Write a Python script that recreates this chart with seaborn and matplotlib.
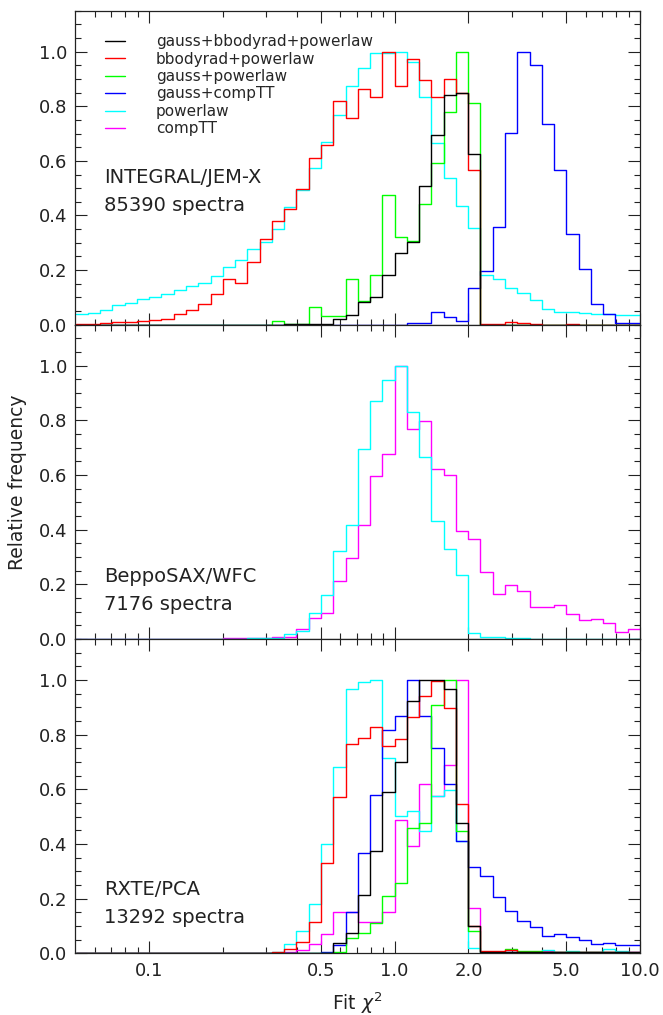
import numpy as np
import pandas as pd
import matplotlib.pyplot as plt
import seaborn as sns
from matplotlib.lines import Line2D
from matplotlib.ticker import FixedLocator, MultipleLocator, FormatStrFormatter, NullFormatter

sns.set_style("ticks")
plt.rcParams["font.family"] = ["DejaVu Sans"]
plt.rcParams["mathtext.fontset"] = "dejavusans"

models = ["gauss+bbodyrad+powerlaw", "bbodyrad+powerlaw", "gauss+powerlaw",
          "gauss+compTT", "powerlaw", "compTT"]
colors = ["#000000", "#ff0000", "#00ff00", "#0000ff", "#00ffff", "#ff00ff"]

# histogram bins: 0.05 wide in log10(chi2), from 0.05 to 10
n_bins = 46
log_lo, dlog = -1.30, 0.05


def from_bin(start, values):
    out = [0.0] * n_bins
    out[start:start + len(values)] = values
    return out


# INTEGRAL/JEM-X
jemx_black = from_bin(17, [0.004, 0.004, 0.004, 0.002, 0.020, 0.036, 0.083, 0.102, 0.184, 0.264,
                           0.304, 0.508, 0.695, 0.841, 0.850, 0.624])
jemx_red = [0.004, 0.004, 0.006, 0.009, 0.011, 0.013, 0.017, 0.022, 0.039, 0.053,
            0.075, 0.111, 0.166, 0.154, 0.230, 0.313, 0.380, 0.425, 0.498, 0.609,
            0.658, 0.819, 0.757, 0.862, 0.832, 1.000, 0.874, 0.972, 0.895, 0.832,
            0.899, 0.850, 0.567, 0.004, 0.002, 0.011, 0.008, 0.004, 0.000, 0.000,
            0.002, 0.000, 0.000, 0.000, 0.000, 0.000]
jemx_green = from_bin(16, [0.013, 0.002, 0.002, 0.065, 0.032, 0.032, 0.169, 0.087, 0.184, 0.474,
                           0.321, 0.307, 0.441, 0.591, 0.779, 1.000, 0.813])
jemx_blue = from_bin(27, [0.007, 0.007, 0.047, 0.028, 0.015, 0.136, 0.197, 0.359, 0.703, 1.000,
                          0.950, 0.734, 0.567, 0.331, 0.205, 0.077, 0.038, 0.007, 0.007])
jemx_cyan = [0.040, 0.044, 0.053, 0.072, 0.081, 0.093, 0.103, 0.114, 0.126, 0.142,
             0.154, 0.178, 0.213, 0.236, 0.276, 0.303, 0.349, 0.431, 0.493, 0.575,
             0.669, 0.767, 0.874, 0.939, 0.993, 0.993, 1.000, 0.960, 0.832, 0.667,
             0.536, 0.435, 0.355, 0.182, 0.166, 0.133, 0.115, 0.090, 0.056, 0.048,
             0.048, 0.044, 0.040, 0.038, 0.035, 0.035]

# BeppoSAX/WFC
wfc_cyan = from_bin(14, [0.002, 0.002, 0.004, 0.019, 0.031, 0.096, 0.162, 0.324, 0.419, 0.694,
                         0.871, 0.949, 1.000, 0.831, 0.666, 0.432, 0.328, 0.235, 0.021, 0.009,
                         0.006, 0.004, 0.002])
wfc_magenta = from_bin(12, [0.004, 0.004, 0.002, 0.002, 0.006, 0.009, 0.037, 0.078, 0.096, 0.214,
                            0.297, 0.419, 0.595, 0.676, 1.000, 0.770, 0.798, 0.623, 0.601, 0.395,
                            0.367, 0.245, 0.166, 0.199, 0.174, 0.117, 0.117, 0.123, 0.093, 0.068,
                            0.072, 0.059, 0.027, 0.035])

# RXTE/PCA
pca_black = from_bin(20, [0.002, 0.036, 0.073, 0.214, 0.376, 0.592, 0.700, 0.925, 1.000, 1.000,
                          0.967, 0.476, 0.101, 0.003, 0.003, 0.003, 0.003, 0.003, 0.003, 0.003,
                          0.003, 0.003, 0.003, 0.003, 0.003, 0.003])
pca_red = from_bin(16, [0.004, 0.015, 0.040, 0.116, 0.332, 0.571, 0.766, 0.788, 0.828, 0.757,
                        0.784, 0.864, 0.942, 0.998, 0.897, 0.547, 0.101, 0.010, 0.009, 0.013,
                        0.006, 0.004, 0.004, 0.005, 0.003, 0.006, 0.004, 0.004, 0.003, 0.003])
pca_green = from_bin(21, [0.005, 0.055, 0.073, 0.112, 0.209, 0.256, 0.458, 0.476, 0.907, 1.000,
                          0.449, 0.082, 0.004, 0.006, 0.015, 0.010, 0.008, 0.006, 0.004, 0.004,
                          0.003, 0.004, 0.003, 0.002, 0.002])
pca_blue = from_bin(20, [0.004, 0.029, 0.150, 0.366, 0.580, 0.818, 0.867, 1.000, 0.869, 0.753,
                         0.620, 0.411, 0.315, 0.283, 0.205, 0.156, 0.119, 0.095, 0.064, 0.070,
                         0.061, 0.049, 0.034, 0.037, 0.029, 0.030])
pca_cyan = from_bin(16, [0.004, 0.033, 0.082, 0.179, 0.400, 0.681, 0.967, 0.993, 1.000, 0.714,
                         0.503, 0.522, 0.449, 0.575, 0.598, 0.412, 0.020, 0.004, 0.004, 0.004,
                         0.006, 0.004, 0.012, 0.006, 0.010, 0.006, 0.004, 0.015, 0.008, 0.003])
pca_magenta = from_bin(17, [0.003, 0.012, 0.034, 0.070, 0.152, 0.152, 0.116, 0.116, 0.152, 0.488,
                            0.391, 0.620, 0.574, 0.690, 1.000, 0.166, 0.003, 0.003, 0.003, 0.003,
                            0.005, 0.008, 0.004, 0.003, 0.006, 0.004, 0.004, 0.003, 0.003])

panels = [
    ("INTEGRAL/JEM-X", "85390 spectra",
     {models[0]: jemx_black, models[1]: jemx_red, models[2]: jemx_green,
      models[3]: jemx_blue, models[4]: jemx_cyan}),
    ("BeppoSAX/WFC", "7176 spectra",
     {models[4]: wfc_cyan, models[5]: wfc_magenta}),
    ("RXTE/PCA", "13292 spectra",
     {models[0]: pca_black, models[1]: pca_red, models[2]: pca_green,
      models[3]: pca_blue, models[4]: pca_cyan, models[5]: pca_magenta}),
]
text_y = [(0.470, 0.381), (0.199, 0.110), (0.202, 0.113)]

palette = dict(zip(models, colors))
log_centers = log_lo + dlog * (np.arange(n_bins) + 0.5)

fig = plt.figure(figsize=(6.63, 10.15), dpi=100)
left, width, height, bottom = 0.1136, 0.8517, 0.3096, 0.0608
axes = [fig.add_axes([left, bottom + (2 - i) * height, width, height]) for i in range(3)]

minor_x = [0.06, 0.07, 0.08, 0.09, 0.2, 0.3, 0.4, 0.6, 0.7, 0.8, 0.9, 3, 4, 6, 7, 8, 9]

for ax, (inst, nspec, series), (ty1, ty2) in zip(axes, panels, text_y):
    rows = []
    for name, vals in series.items():
        rows.append(pd.DataFrame({"chi2": 10 ** log_centers, "freq": vals, "model": name}))
    df = pd.concat(rows, ignore_index=True)
    sns.histplot(data=df, x="chi2", weights="freq", hue="model",
                 hue_order=[m for m in models if m in series],
                 palette=palette, element="step", fill=False,
                 binwidth=dlog, binrange=(log_lo, log_lo + dlog * n_bins),
                 log_scale=True, stat="count", legend=False,
                 linewidth=1.0, ax=ax)

    ax.set_xlim(0.05, 10)
    ax.set_ylim(0, 1.15)
    ax.xaxis.set_major_locator(FixedLocator([0.1, 0.5, 1, 2, 5, 10]))
    ax.xaxis.set_minor_locator(FixedLocator(minor_x))
    ax.xaxis.set_minor_formatter(NullFormatter())
    ax.yaxis.set_major_locator(MultipleLocator(0.2))
    ax.yaxis.set_minor_locator(MultipleLocator(0.05))
    ax.yaxis.set_major_formatter(FormatStrFormatter("%.1f"))
    ax.tick_params(which="both", direction="in", top=True, right=True,
                   width=0.8, colors="#222222", labelsize=13, pad=6)
    ax.tick_params(which="major", length=8.5)
    ax.tick_params(which="minor", length=4.5)
    for sp in ax.spines.values():
        sp.set_linewidth(0.9)
        sp.set_color("#222222")
    ax.set_xlabel("")
    ax.set_ylabel("")

    ax.text(0.051, ty1, inst, transform=ax.transAxes, fontsize=14,
            va="center", ha="left", color="#222222")
    ax.text(0.051, ty2, nspec, transform=ax.transAxes, fontsize=14,
            va="center", ha="left", color="#222222")

for ax in axes[:2]:
    ax.tick_params(axis="x", labelbottom=False)

axes[2].set_xticklabels(["0.1", "0.5", "1.0", "2.0", "5.0", "10.0"])
axes[2].set_xlabel("Fit $\\chi^2$", fontsize=13.5, labelpad=8, color="#222222")
axes[1].set_ylabel("Relative frequency", fontsize=13.5, labelpad=8, color="#222222")

handles = [Line2D([], [], color=c, lw=1.0) for c in colors]
axes[0].legend(handles, models, loc="upper left", bbox_to_anchor=(0.053, 0.925),
               frameon=False, fontsize=11, handlelength=1.3, handletextpad=2.0,
               labelspacing=0.16, borderpad=0, borderaxespad=0)

fig.savefig("out.png", dpi=100)
